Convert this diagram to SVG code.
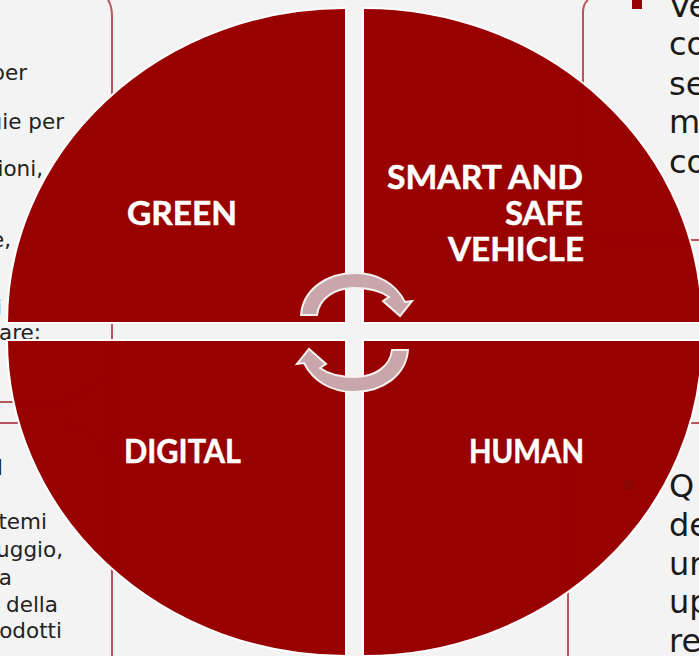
<svg xmlns="http://www.w3.org/2000/svg" width="699" height="656" viewBox="0 0 699 656">
<style>
.bg{fill:#f3f3f3}
.card{fill:none;stroke:#b9555c;stroke-width:2}
.q{fill:#990000;stroke:#fff;stroke-width:2}
.ghost{fill:none;stroke:#7a0000;stroke-width:1.5;opacity:.13}
.lbl{font-family:"Lato","Liberation Sans",sans-serif;font-weight:700;font-size:33px;fill:#fff;stroke:#fff;stroke-width:.5}
.sm{font-family:"DejaVu Sans","Liberation Sans",sans-serif;font-size:21.5px;fill:#222;text-anchor:end}
.big{font-family:"DejaVu Sans","Liberation Sans",sans-serif;font-size:32px;fill:#1a1a1a}
.arrow{fill:#c9a6a9;stroke:#f6f1f1;stroke-width:2;stroke-linejoin:miter}
</style>
<rect class="bg" width="699" height="656"/>
<g id="background-cards">
<path class="card" d="M108,0Q112,6 112,16V656"/>
<path class="card" d="M0,402H60M0,423H60"/>
<path class="card" d="M588,0Q583,4 583,12V120"/>
<path class="card" d="M670,240H699M670,423H699"/>
<path class="card" d="M568,560V656"/>
<rect x="632" y="0" width="10" height="9" fill="#990000"/>
<g id="background-text">
<text class="sm" x="27" y="80">per</text>
<text class="sm" x="64" y="129">gie per</text>
<text class="sm" x="43" y="176">zioni,</text>
<text class="sm" x="11" y="247">e,</text>
<text class="sm" x="2" y="315">i</text>
<text class="sm" x="41" y="340">lare;</text>
<text class="sm" x="3" y="475">l</text>
<text class="sm" x="47" y="529">temi</text>
<text class="sm" x="63" y="557">uggio,</text>
<text class="sm" x="12" y="585">a</text>
<text class="sm" x="58" y="612">della</text>
<text class="sm" x="62" y="638">odotti</text>
<text class="big" x="669" y="17">Ve</text>
<text class="big" x="669" y="55">co</text>
<text class="big" x="669" y="95">se</text>
<text class="big" x="669" y="133">m</text>
<text class="big" x="669" y="173">co</text>
<text class="big" x="669" y="497">Q</text>
<text class="big" x="669" y="536">de</text>
<text class="big" x="669" y="575">ur</text>
<text class="big" x="669" y="613">up</text>
<text class="big" x="669" y="652">re</text>
</g>
</g>
<g id="node-green">
<path class="q" d="M346,323H7A338,315 0 0 1 346,8Z"/>
<text class="lbl" x="127" y="225" textLength="110" lengthAdjust="spacingAndGlyphs">GREEN</text>
</g>
<g id="node-smart">
<path class="q" d="M363,323H702A338,315 0 0 0 363,8Z"/>
<text class="lbl" x="387" y="189" textLength="196" lengthAdjust="spacingAndGlyphs">SMART AND</text>
<text class="lbl" x="505" y="225" textLength="78" lengthAdjust="spacingAndGlyphs">SAFE</text>
<text class="lbl" x="448" y="261" textLength="136" lengthAdjust="spacingAndGlyphs">VEHICLE</text>
</g>
<g id="node-digital">
<path class="q" d="M346,340H7A338,316 0 0 0 346,656Z"/>
<text class="lbl" x="124" y="463" textLength="117" lengthAdjust="spacingAndGlyphs">DIGITAL</text>
</g>
<g id="node-human">
<path class="q" d="M363,340H702A338,316 0 0 1 363,656Z"/>
<text class="lbl" x="469" y="463" textLength="115" lengthAdjust="spacingAndGlyphs">HUMAN</text>
</g>
<g id="ghost-marks">
<path class="ghost" d="M112,340V568M20,402H60Q95,395 112,365M65,423Q95,425 112,465"/>
<path class="ghost" d="M583,83V225Q585,238 600,240H690"/>
<path class="ghost" d="M568,430V590"/>
<rect x="624" y="480" width="9" height="9" fill="#7f0a0a" opacity=".7"/>
</g>
<g id="connectors">
<path class="arrow" d="M301,315C303,290 326,273 355,273C378,273 396,284 405,302L412,301L400,316L383,301L389,297C381,291 370,288 354,288C335,288 319,298 317,315Z"/>
<path class="arrow" transform="rotate(180 354.5 332.5)" d="M301,315C303,290 326,273 355,273C378,273 396,284 405,302L412,301L400,316L383,301L389,297C381,291 370,288 354,288C335,288 319,298 317,315Z"/>
</g>
</svg>
